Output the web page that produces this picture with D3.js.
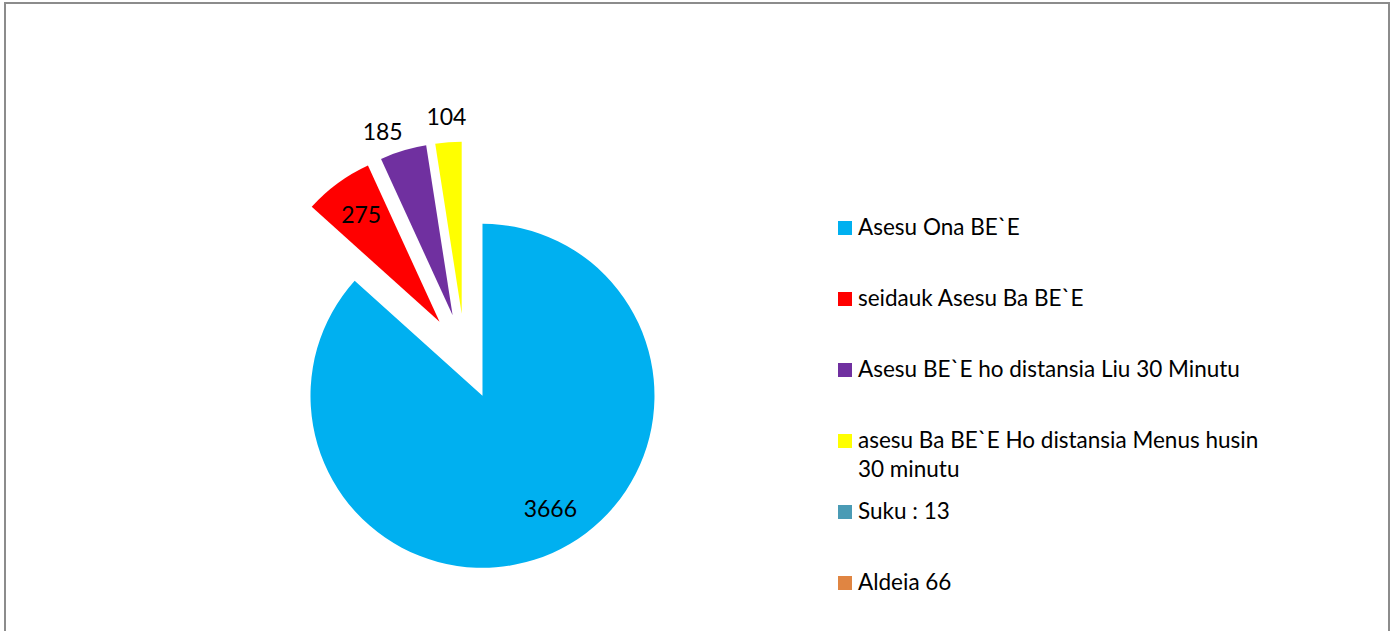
<!DOCTYPE html>
<html>
<head>
<meta charset="utf-8">
<script src="https://cdn.jsdelivr.net/npm/d3@7"></script>
<style>
  body { margin: 0; background: #fff; }
  text { font-family: Lato, "Open Sans", sans-serif; fill: #000; }
</style>
</head>
<body>
<script>
// categories and values
var categories = [
  "Asesu Ona BE`E",
  "seidauk Asesu Ba BE`E",
  "Asesu BE`E ho distansia Liu 30 Minutu",
  "asesu Ba BE`E Ho distansia Menus husin 30 minutu",
  "Suku : 13",
  "Aldeia 66"
]
var values = [3666, 275, 185, 104, 0, 0]
var colors = ["#00B0F0", "#FF0000", "#7030A0", "#FFFF00", "#4A9BB5", "#E08542"]

var width = 1396
var height = 631

var svg = d3.select("body")
  .append("svg")
  .attr("width", width)
  .attr("height", height)

// chart frame
svg.append("rect")
  .attr("x", 5)
  .attr("y", 3)
  .attr("width", 1384)
  .attr("height", 700)
  .attr("fill", "none")
  .attr("stroke", "#8c8c8c")
  .attr("stroke-width", 2)

var data = categories.map(function(c, i) {
  return { name: c, value: values[i], color: colors[i] }
})

var cx = 465, cy = 356.5
var radius = 172
var explode = 43

var pie = d3.pie()
  .sort(null)
  .value(function(d) { return d.value })

var arc = d3.arc()
  .innerRadius(0)
  .outerRadius(radius)

var arcs = pie(data).filter(function(d) { return d.value > 0 })

function offset(d) {
  var mid = (d.startAngle + d.endAngle) / 2
  return [cx + explode * Math.sin(mid), cy - explode * Math.cos(mid)]
}

var slices = svg.append("g")
  .selectAll("g")
  .data(arcs)
  .enter()
  .append("g")
  .attr("transform", function(d) {
    var o = offset(d)
    return "translate(" + o[0] + "," + o[1] + ")"
  })

slices.append("path")
  .attr("d", arc)
  .attr("fill", function(d) { return d.data.color })

// data labels: big slices inside, thin ones outside (small nudges like excel best fit)
var nudge = { 0: [14, -8], 2: [-13, 6] }
slices.append("text")
  .attr("text-anchor", "middle")
  .attr("dy", "0.36em")
  .style("font-size", "23px")
  .attr("x", function(d, i) {
    var mid = (d.startAngle + d.endAngle) / 2
    var inside = (d.endAngle - d.startAngle) > 0.3
    var r = inside ? radius * 0.77 : radius + 26
    return r * Math.sin(mid) + (nudge[i] ? nudge[i][0] : 0)
  })
  .attr("y", function(d, i) {
    var mid = (d.startAngle + d.endAngle) / 2
    var inside = (d.endAngle - d.startAngle) > 0.3
    var r = inside ? radius * 0.77 : radius + 26
    return -r * Math.cos(mid) + (nudge[i] ? nudge[i][1] : 0)
  })
  .text(function(d) { return d.value })

// legend
var legend = svg.append("g")
  .attr("transform", "translate(838,0)")

var rowY = d3.scalePoint()
  .domain(d3.range(categories.length))
  .range([235, 590])

var items = legend.selectAll("g")
  .data(data)
  .enter()
  .append("g")
  .attr("transform", function(d, i) { return "translate(0," + rowY(i) + ")" })

items.append("rect")
  .attr("x", 0)
  .attr("y", -14)
  .attr("width", 14)
  .attr("height", 14)
  .attr("fill", function(d) { return d.color })

items.append("text")
  .attr("x", 20)
  .attr("y", 0)
  .style("font-size", "22.5px")
  .each(function(d) {
    // wrap long names like the original legend does
    var el = d3.select(this)
    var words = d.name.split(" ")
    var line = []
    var tspan = el.append("tspan").attr("x", 20).attr("dy", 0)
    words.forEach(function(w) {
      line.push(w)
      tspan.text(line.join(" "))
      if (tspan.node().getComputedTextLength() > 412 && line.length > 1) {
        line.pop()
        tspan.text(line.join(" "))
        line = [w]
        tspan = el.append("tspan").attr("x", 20).attr("dy", 29).text(w)
      }
    })
  })
</script>
</body>
</html>
